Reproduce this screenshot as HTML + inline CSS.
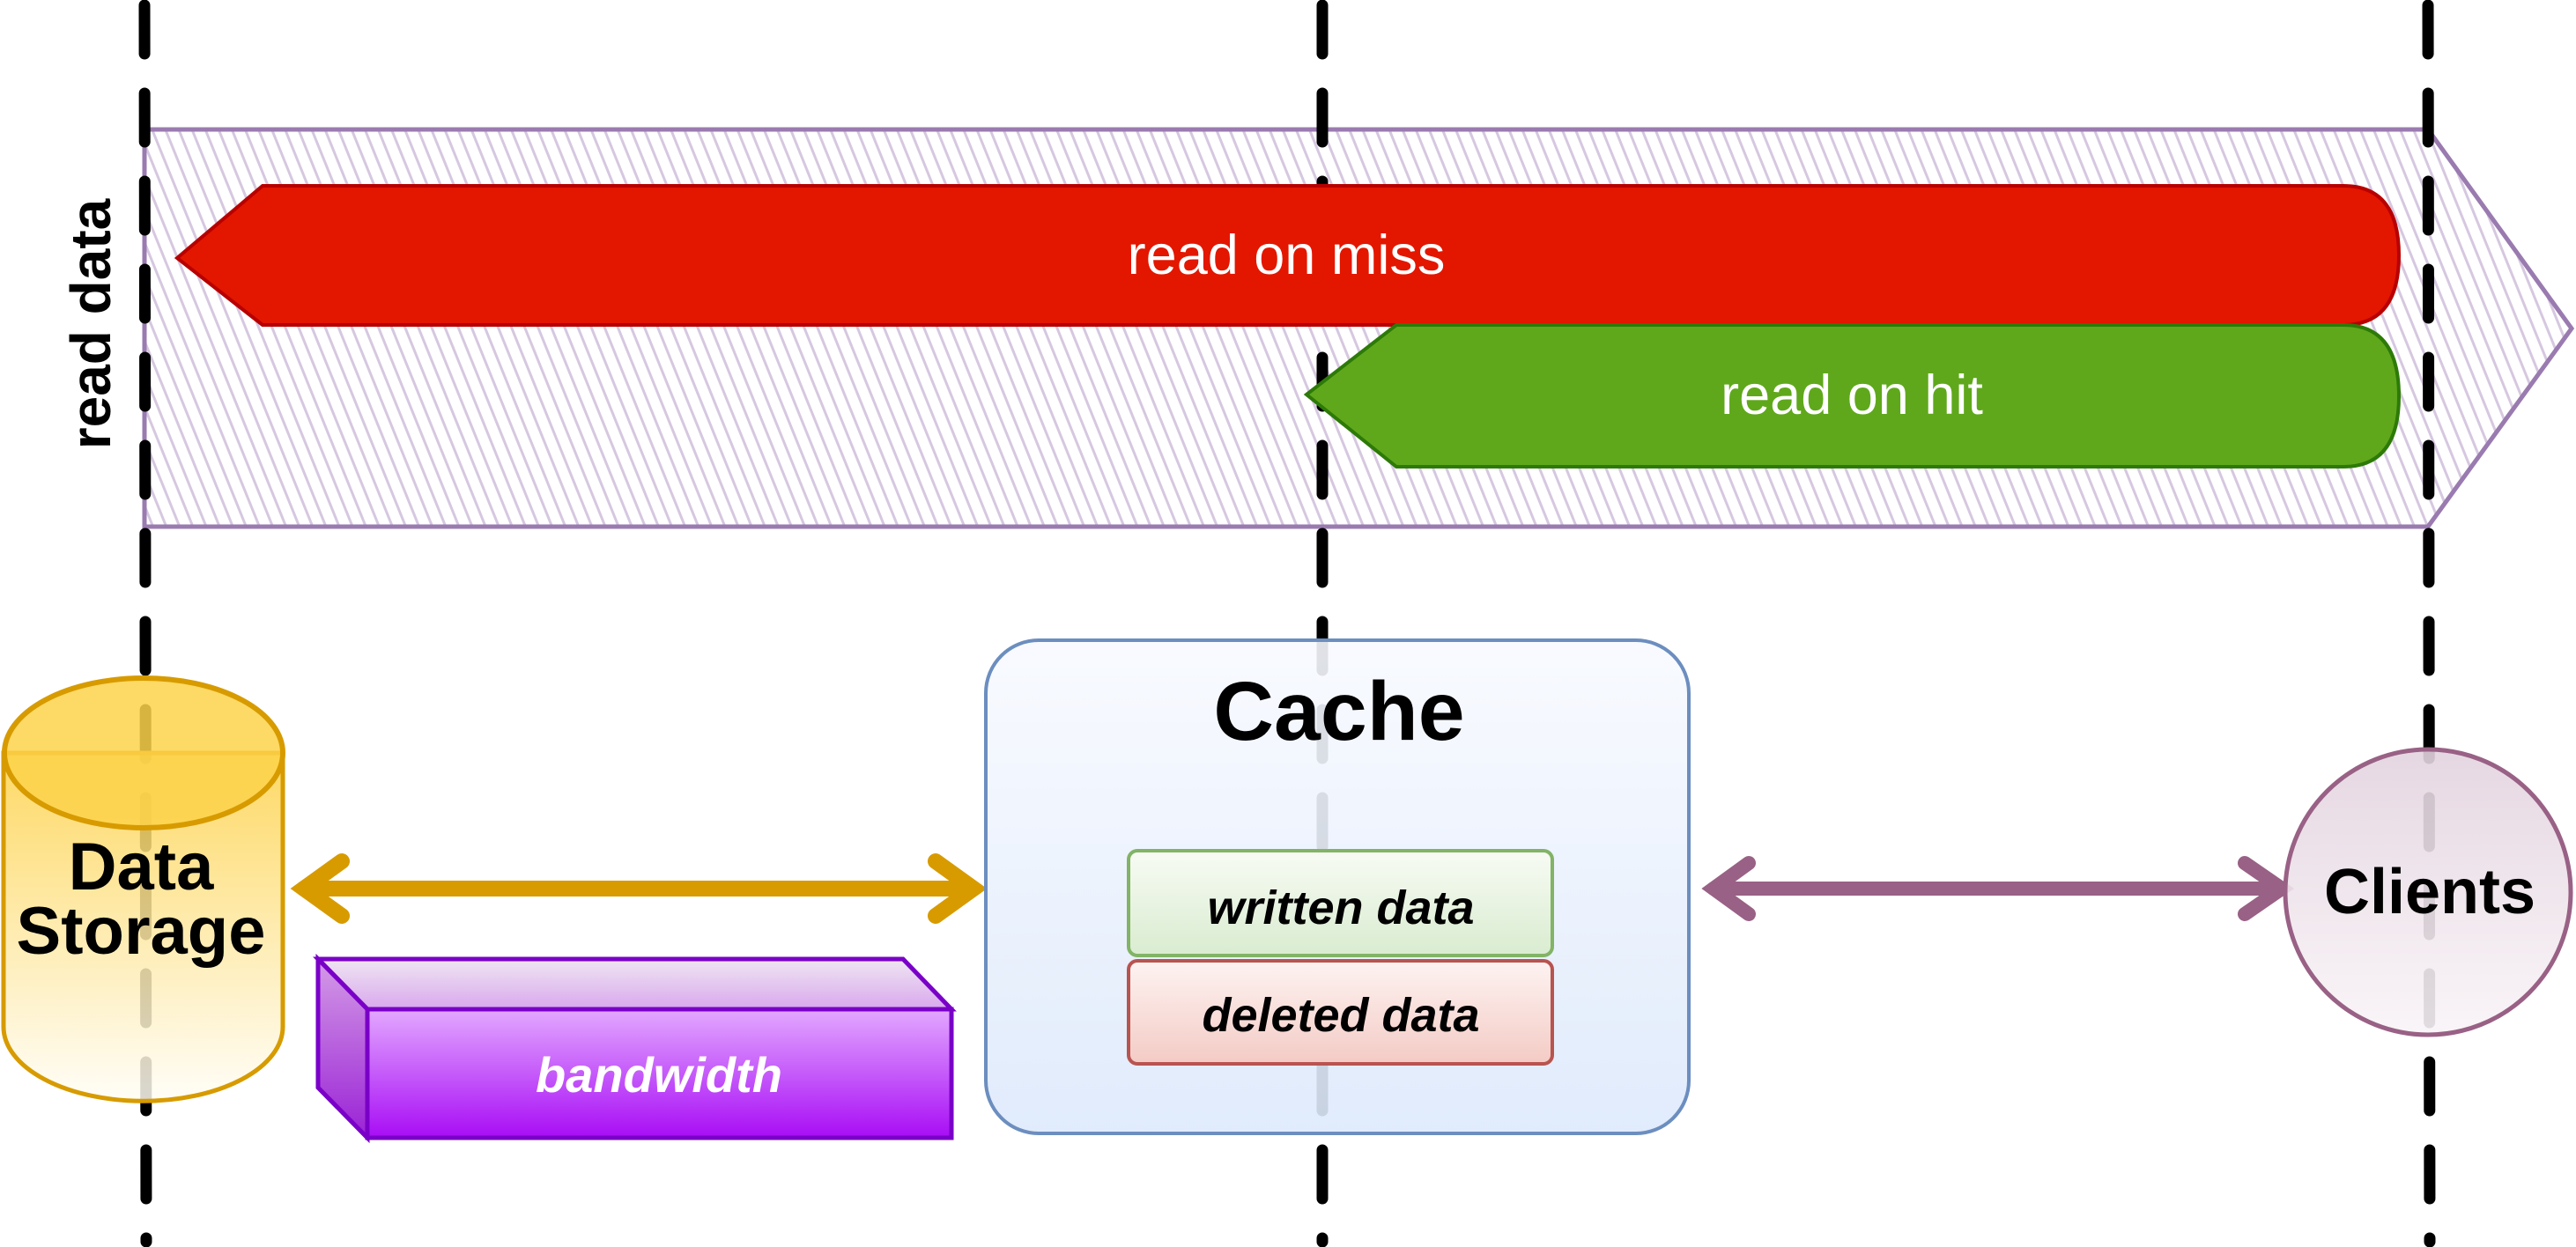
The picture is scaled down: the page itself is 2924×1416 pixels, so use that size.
<!DOCTYPE html>
<html><head><meta charset="utf-8"><style>
html,body{margin:0;padding:0;background:#fff;}
svg{display:block;}
text{font-family:"Liberation Sans",sans-serif;}
</style></head><body>
<svg width="2924" height="1416" viewBox="0 0 2924 1416" xmlns="http://www.w3.org/2000/svg">
<defs>
<pattern id="hatch" width="14" height="14" patternUnits="userSpaceOnUse" patternTransform="rotate(-22)">
<line x1="7" y1="0" x2="7" y2="14" stroke="#d6c8e0" stroke-width="3"/>
</pattern>
<linearGradient id="gyel" x1="0" y1="0" x2="0" y2="1"><stop offset="0" stop-color="#fdd24a"/><stop offset="1" stop-color="#fffdf6"/></linearGradient>
<linearGradient id="gcache" x1="0" y1="0" x2="0" y2="1"><stop offset="0" stop-color="#f8faff"/><stop offset="1" stop-color="#dde9fb"/></linearGradient>
<linearGradient id="gfront" x1="0" y1="0" x2="0" y2="1"><stop offset="0" stop-color="#e3a8ff"/><stop offset="1" stop-color="#a80df5"/></linearGradient>
<linearGradient id="gtop" x1="0" y1="0" x2="0" y2="1"><stop offset="0" stop-color="#efe6f3"/><stop offset="1" stop-color="#d9a8ec"/></linearGradient>
<linearGradient id="gside" x1="0" y1="0" x2="0" y2="1"><stop offset="0" stop-color="#d49be6"/><stop offset="1" stop-color="#9a22d6"/></linearGradient>
<linearGradient id="ggreen" x1="0" y1="0" x2="0" y2="1"><stop offset="0" stop-color="#f8fbf4"/><stop offset="1" stop-color="#d9ecd0"/></linearGradient>
<linearGradient id="gred" x1="0" y1="0" x2="0" y2="1"><stop offset="0" stop-color="#fdf3f1"/><stop offset="1" stop-color="#f4cbc5"/></linearGradient>
<linearGradient id="gcli" x1="0" y1="0" x2="0" y2="1"><stop offset="0" stop-color="#e3d3df"/><stop offset="1" stop-color="#f9f4f7"/></linearGradient>
</defs>

<polygon points="164,147 2756,147 2919,373 2756,598 164,598" fill="url(#hatch)" stroke="#9a7bb0" stroke-width="5"/>

<g stroke="#000" stroke-width="13" stroke-linecap="round" stroke-dasharray="55 45" fill="none">
<line x1="164" y1="6" x2="166" y2="1410"/>
<line x1="1501" y1="6" x2="1501" y2="1410"/>
<line x1="2756" y1="6" x2="2758" y2="1410"/>
</g>

<path d="M201,293 L298,211 L2660,211 Q2723,211 2723,290 Q2723,369 2660,369 L298,369 Z" fill="#e31600" stroke="#b80000" stroke-width="4"/>
<text x="1460" y="311" font-size="63" fill="#fff" text-anchor="middle">read on miss</text>
<path d="M1483,448 L1585,369 L2660,369 Q2723,369 2723,450 Q2723,530 2660,530 L1585,530 Z" fill="#5fa81b" stroke="#2d7a08" stroke-width="4"/>
<text x="2102" y="470" font-size="63" fill="#fff" text-anchor="middle">read on hit</text>

<text transform="translate(125,368) rotate(-90)" font-size="64" font-weight="bold" text-anchor="middle" fill="#000">read data</text>

<path d="M4,855 L4,1166 A158,84 0 0 0 321,1166 L321,855 Z" fill="url(#gyel)" fill-opacity="0.85" stroke="#d79b00" stroke-width="5"/>
<ellipse cx="163" cy="855" rx="158" ry="85" fill="#fdd24a" fill-opacity="0.85" stroke="#d79b00" stroke-width="6"/>
<text x="160" y="1010" font-size="76" font-weight="bold" text-anchor="middle">Data</text>
<text x="160" y="1083" font-size="76" font-weight="bold" text-anchor="middle">Storage</text>

<g stroke="#d79b00" stroke-width="18" stroke-linecap="round" fill="none">
<line x1="345" y1="1009" x2="1100" y2="1009"/>
<polyline points="388,978 345,1009 388,1040"/>
<polyline points="1062,978 1105,1009 1062,1040"/>
</g>

<polygon points="361,1089 1025,1089 1080,1146 417,1146" fill="url(#gtop)" stroke="#7a00c8" stroke-width="5"/>
<polygon points="361,1089 417,1146 417,1292 361,1235" fill="url(#gside)" stroke="#7a00c8" stroke-width="5"/>
<rect x="417" y="1146" width="663" height="146" fill="url(#gfront)" stroke="#7a00c8" stroke-width="5"/>
<text x="748" y="1240" font-size="56" font-weight="bold" font-style="italic" fill="#fff" text-anchor="middle">bandwidth</text>

<rect x="1119" y="727" width="798" height="560" rx="60" fill="url(#gcache)" fill-opacity="0.9" stroke="#6c8ebf" stroke-width="4"/>
<text x="1520" y="840" font-size="95" font-weight="bold" text-anchor="middle">Cache</text>
<rect x="1281" y="966" width="481" height="119" rx="10" fill="url(#ggreen)" stroke="#82b366" stroke-width="4"/>
<text x="1522" y="1049" font-size="54" font-weight="bold" font-style="italic" text-anchor="middle">written data</text>
<rect x="1281" y="1091" width="481" height="117" rx="10" fill="url(#gred)" stroke="#b85450" stroke-width="4"/>
<text x="1522" y="1171" font-size="54" font-weight="bold" font-style="italic" text-anchor="middle">deleted data</text>

<g stroke="#996185" stroke-width="16" stroke-linecap="round" fill="none">
<line x1="1945" y1="1009" x2="2588" y2="1009"/>
<polyline points="1985,980 1945,1009 1985,1038"/>
<polyline points="2548,980 2590,1009 2548,1038"/>
</g>

<circle cx="2756" cy="1013" r="162" fill="url(#gcli)" fill-opacity="0.9" stroke="#996185" stroke-width="5"/>
<text x="2758" y="1037" font-size="72" font-weight="bold" text-anchor="middle">Clients</text>
</svg>
</body></html>
